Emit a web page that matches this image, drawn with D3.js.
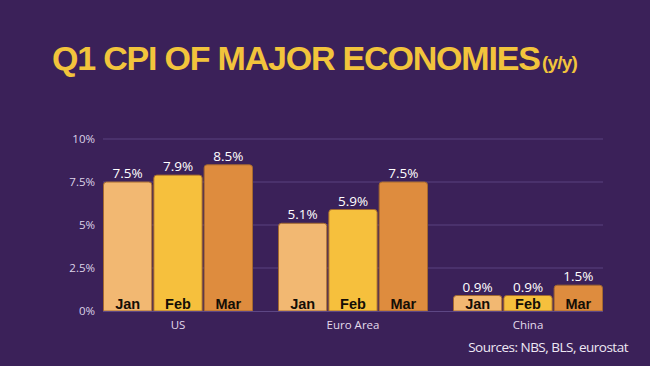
<!DOCTYPE html>
<html><head><meta charset="utf-8">
<script src="https://cdn.jsdelivr.net/npm/d3@7"></script>
<style>body{margin:0;background:#3b2159;}svg{display:block;}</style>
</head><body>
<svg id="c" width="650" height="366"></svg>
<script>
const regions = ["US", "Euro Area", "China"];
const months = ["Jan", "Feb", "Mar"];
const jan = [7.5, 5.1, 0.9];
const feb = [7.9, 5.9, 0.9];
const mar = [8.5, 7.5, 1.5];
const tickVals = [0, 2.5, 5, 7.5, 10];
const tickLabels = ["0%", "2.5%", "5%", "7.5%", "10%"];
const colors = ["#f2b872", "#f6c03d", "#de8c3e"];

const series = [jan, feb, mar];
const svg = d3.select("#c");
svg.append("rect").attr("width", 650).attr("height", 366).attr("fill", "#3b2159");

const x0 = d3.scaleBand().domain(regions).range([103, 603]).paddingInner(1/7).paddingOuter(0);
const x1 = d3.scaleBand().domain(months).range([0, x0.bandwidth()]).paddingInner(0.02);
const y = d3.scaleLinear().domain([0, 10]).range([311, 139]);

// title
svg.append("text").attr("x", 52).attr("y", 70)
  .attr("font-family", "Liberation Sans, Arial, sans-serif").attr("font-weight", "bold")
  .attr("fill", "#f2c43c").attr("font-size", 34).attr("letter-spacing", -1.2)
  .text("Q1 CPI OF MAJOR ECONOMIES");
svg.append("text").attr("x", 542).attr("y", 69).text("(y/y)")
  .attr("font-family", "Liberation Sans, Arial, sans-serif").attr("font-weight", "bold")
  .attr("fill", "#f2c43c").attr("font-size", 19).attr("letter-spacing", -0.8);

// grid
svg.append("g").selectAll("line").data(tickVals.filter(d => d > 0)).join("line")
  .attr("x1", 103).attr("x2", 603).attr("y1", d => y(d)).attr("y2", d => y(d))
  .attr("stroke", "#5b4380").attr("stroke-width", 1);

// y axis
const yAxis = d3.axisLeft(y).tickValues(tickVals).tickFormat((d, i) => tickLabels[i]).tickSize(0).tickPadding(8);
const ya = svg.append("g").attr("transform", "translate(103,0)").call(yAxis);
ya.select(".domain").remove();
ya.selectAll("text").attr("fill", "#ddd3e8").attr("font-size", 11.5)
  .attr("font-family", "Open Sans, Noto Sans, sans-serif").attr("x", -8);

// bars
const groups = svg.append("g").selectAll("g").data(regions).join("g")
  .attr("transform", d => `translate(${x0(d)},0)`);

function barPath(x, yTop, w, h, r) {
  r = Math.min(r, h);
  return `M${x},${yTop + h} V${yTop + r} Q${x},${yTop} ${x + r},${yTop} H${x + w - r} Q${x + w},${yTop} ${x + w},${yTop + r} V${yTop + h} Z`;
}

groups.each(function (reg, ri) {
  const g = d3.select(this);
  const data = months.map((m, mi) => ({ m, mi, v: series[mi][ri] }));
  g.selectAll("path.bar").data(data).join("path").attr("class", "bar")
    .attr("d", d => barPath(x1(d.m) + 0.5, y(d.v), x1.bandwidth() - 1, y(0) - y(d.v), 3))
    .attr("fill", d => colors[d.mi]).attr("stroke", "#a3682f").attr("stroke-width", 1);
  g.selectAll("text.val").data(data).join("text").attr("class", "val")
    .attr("x", d => x1(d.m) + x1.bandwidth() / 2).attr("y", d => y(d.v) - 4)
    .attr("text-anchor", "middle").attr("fill", "#ffffff").attr("font-size", 13.5)
    .attr("font-family", "Open Sans, Noto Sans, sans-serif").text(d => d.v.toFixed(1) + "%");
  g.selectAll("text.mon").data(data).join("text").attr("class", "mon")
    .attr("x", d => x1(d.m) + x1.bandwidth() / 2).attr("y", 309)
    .attr("text-anchor", "middle").attr("fill", "#140e06").attr("font-size", 14.5)
    .attr("font-weight", "bold").attr("font-family", "Liberation Sans, Arial, sans-serif").text(d => d.m);
});

// x axis line
svg.append("line").attr("x1", 103).attr("x2", 603).attr("y1", y(0) + 0.5).attr("y2", y(0) + 0.5)
  .attr("stroke", "#5d4784").attr("stroke-width", 1);

const xAxis = d3.axisBottom(x0).tickSize(0).tickPadding(10);
const xa = svg.append("g").attr("transform", `translate(0,${y(0)})`).call(xAxis);
xa.select(".domain").remove();
xa.selectAll("text").attr("fill", "#e3dbec").attr("font-size", 11.5)
  .attr("font-family", "Open Sans, Noto Sans, sans-serif");

// source
svg.append("text").attr("x", 628).attr("y", 352).attr("text-anchor", "end")
  .attr("fill", "#eee8f4").attr("font-size", 13.5).attr("letter-spacing", -0.5)
  .attr("font-family", "Open Sans, Noto Sans, sans-serif")
  .text("Sources: NBS, BLS, eurostat");
</script>
</body></html>
